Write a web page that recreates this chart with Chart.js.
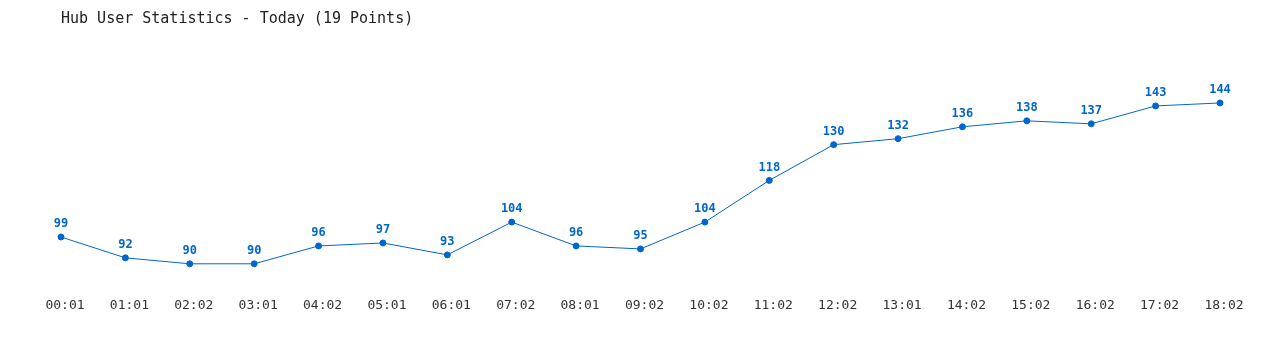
<!DOCTYPE html>
<html>
<head>
<meta charset="utf-8">
<script src="https://cdn.jsdelivr.net/npm/chart.js@4"></script>
<style>
html,body{margin:0;padding:0;background:#fff;}
#wrap{width:1280px;height:350px;}
</style>
</head>
<body>
<div id="wrap"><canvas id="c" width="1280" height="350"></canvas></div>
<script>
const categories = ["00:01","01:01","02:02","03:01","04:02","05:01","06:01","07:02","08:01","09:02","10:02","11:02","12:02","13:01","14:02","15:02","16:02","17:02","18:02"];
const users = [99,92,90,90,96,97,93,104,96,95,104,118,130,132,136,138,137,143,144];
const titleText = "Hub User Statistics - Today (19 Points)";

const valueLabels = {
  id: 'valueLabels',
  afterDatasetsDraw(chart) {
    const ctx = chart.ctx;
    const meta = chart.getDatasetMeta(0);
    ctx.save();
    ctx.font = "bold 12px 'DejaVu Sans Mono', monospace";
    ctx.fillStyle = '#0066cc';
    ctx.textAlign = 'center';
    ctx.textBaseline = 'middle';
    meta.data.forEach((pt, i) => {
      ctx.fillText(String(users[i]), pt.x, pt.y - 13);
    });
    ctx.restore();
  }
};

new Chart(document.getElementById('c'), {
  type: 'line',
  data: {
    labels: categories,
    datasets: [{
      data: users,
      borderColor: '#0066cc',
      backgroundColor: '#0066cc',
      borderWidth: 1,
      pointRadius: 3,
      pointBorderWidth: 1,
      pointBackgroundColor: '#0066cc',
      pointBorderColor: '#0066cc',
      tension: 0,
      fill: false
    }]
  },
  options: {
    responsive: false,
    animation: false,
    devicePixelRatio: 1,
    layout: { padding: { left: 61, right: 60, top: 0, bottom: 31.6 } },
    plugins: {
      legend: { display: false },
      tooltip: { enabled: false },
      title: {
        display: true,
        text: titleText,
        align: 'start',
        color: '#222',
        font: { family: "'DejaVu Sans Mono', monospace", size: 15, weight: 'normal', lineHeight: 1.2 },
        padding: { top: 10, bottom: 12.4 }
      }
    },
    scales: {
      x: {
        offset: false,
        grid: { display: false, drawTicks: false },
        border: { display: false },
        ticks: {
          color: '#333',
          font: { family: "'DejaVu Sans Mono', monospace", size: 13 },
          padding: 4.6,
          labelOffset: 4,
          maxRotation: 0,
          autoSkip: false
        }
      },
      y: {
        display: false,
        min: 80,
        max: 165
      }
    }
  },
  plugins: [valueLabels]
});
</script>
</body>
</html>
